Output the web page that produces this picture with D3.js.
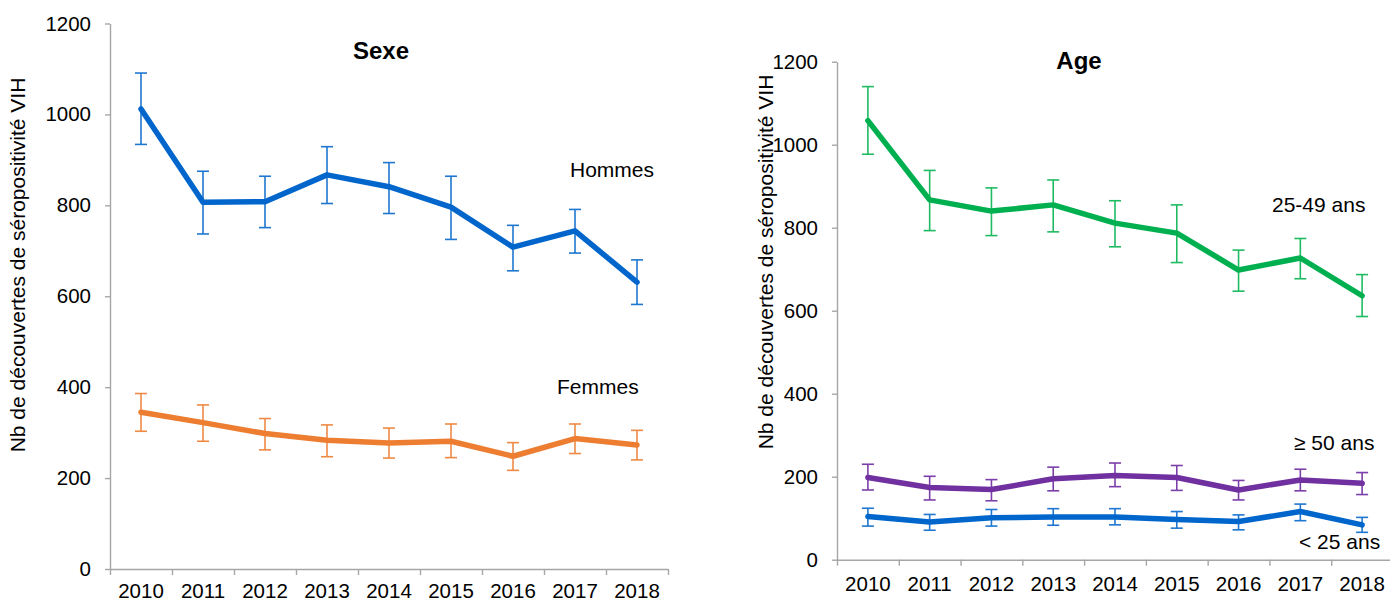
<!DOCTYPE html>
<html>
<head>
<meta charset="utf-8">
<script src="https://cdn.jsdelivr.net/npm/d3@7"></script>
<style>
  html, body { margin: 0; padding: 0; background: #fff; }
  svg { display: block; }
  text { font-family: "Liberation Sans", Arial, sans-serif; fill: #000; }
</style>
</head>
<body>
<svg id="chart" width="1390" height="602"></svg>
<script>
// ---------- DATA ----------
const years = ["2010", "2011", "2012", "2013", "2014", "2015", "2016", "2017", "2018"];
const yTickValues = [0, 200, 400, 600, 800, 1000, 1200];

// Sexe panel
const hommes     = [1012, 807, 808, 867, 841, 796, 708, 744, 631];
const hommesLow  = [934, 737, 751, 804, 782, 725, 656, 695, 582];
const hommesHigh = [1091, 875, 864, 929, 894, 864, 756, 791, 680];

const femmes     = [345, 322, 298, 283, 277, 281, 248, 287, 273];
const femmesLow  = [303, 281, 262, 247, 244, 245, 217, 254, 240];
const femmesHigh = [386, 361, 331, 317, 310, 319, 278, 319, 305];

// Age panel
const age2549     = [1058, 867, 840, 855, 811, 787, 698, 727, 636];
const age2549Low  = [977, 793, 781, 790, 754, 716, 647, 677, 586];
const age2549High = [1140, 938, 896, 915, 865, 855, 746, 774, 687];

const age50     = [198, 174, 169, 195, 203, 198, 168, 192, 184];
const age50Low  = [168, 144, 142, 166, 176, 167, 144, 166, 157];
const age50High = [230, 201, 193, 223, 233, 227, 191, 218, 210];

const ageU25     = [104, 91, 101, 103, 103, 97, 92, 116, 84];
const ageU25Low  = [81, 71, 81, 83, 84, 76, 72, 94, 66];
const ageU25High = [124, 109, 121, 123, 123, 116, 108, 134, 102];

const yAxisTitle = "Nb de découvertes de séropositivité VIH";

// ---------- DRAW ----------
const svg = d3.select("#chart");
const AXIS = "#a6a6a6";
const FONT = "Liberation Sans, Arial, sans-serif";

function panel(cfg) {
  const g = svg.append("g");
  const x = d3.scaleBand().domain(years).range([cfg.x0, cfg.x1]).padding(0);
  const xEdge = d3.scaleLinear().domain([0, years.length]).range([cfg.x0, cfg.x1]);
  const y = d3.scaleLinear().domain([0, 1200]).range([cfg.y0, cfg.y1]);
  const cx = d => x(d) + x.bandwidth() / 2;

  // y axis
  const ya = g.append("g").attr("transform", `translate(${cfg.x0},0)`)
    .call(d3.axisLeft(y).tickValues(yTickValues).tickSize(5).tickPadding(14).tickSizeOuter(0).tickFormat(d3.format("d")));
  ya.select(".domain").attr("stroke", AXIS).attr("stroke-width", 1.4);
  ya.selectAll(".tick line").attr("stroke", AXIS).attr("stroke-width", 1.4);
  ya.selectAll(".tick text").attr("font-size", 20.5).attr("font-family", FONT).attr("fill", "#000");

  // x axis: tick marks at category edges
  const xa = g.append("g").attr("transform", `translate(0,${cfg.y0})`)
    .call(d3.axisBottom(xEdge).tickValues(d3.range(years.length + 1)).tickSize(6).tickSizeOuter(0).tickFormat(""));
  xa.select(".domain").attr("stroke", AXIS).attr("stroke-width", 1.4);
  xa.selectAll(".tick line").attr("stroke", AXIS).attr("stroke-width", 1.4);

  // x labels at category centres
  const xl = g.append("g").attr("transform", `translate(0,${cfg.y0})`)
    .call(d3.axisBottom(x).tickSize(0).tickPadding(cfg.xPad));
  xl.select(".domain").remove();
  xl.selectAll(".tick text").attr("font-size", 20.5).attr("font-family", FONT).attr("fill", "#000");

  // y-axis title
  g.append("text")
    .attr("transform", `translate(${cfg.titleX},${cfg.titleY}) rotate(-90)`)
    .attr("text-anchor", "middle")
    .attr("dominant-baseline", "central")
    .attr("font-size", 21)
    .text(yAxisTitle);

  // panel title
  g.append("text")
    .attr("x", cfg.headX).attr("y", cfg.headY)
    .attr("text-anchor", "middle")
    .attr("font-size", 24).attr("font-weight", "bold")
    .text(cfg.head);

  cfg.series.forEach(s => {
    const pts = years.map((yr, i) => ({ yr, v: s.values[i], lo: s.low[i], hi: s.high[i] }));
    const eb = g.append("g").attr("stroke", s.errColor).attr("stroke-width", 1.6).attr("fill", "none");
    pts.forEach(p => {
      const px = cx(p.yr);
      eb.append("line").attr("x1", px).attr("x2", px).attr("y1", y(p.lo)).attr("y2", y(p.hi));
      eb.append("line").attr("x1", px - 6).attr("x2", px + 6).attr("y1", y(p.lo)).attr("y2", y(p.lo));
      eb.append("line").attr("x1", px - 6).attr("x2", px + 6).attr("y1", y(p.hi)).attr("y2", y(p.hi));
    });
    g.append("path").datum(pts)
      .attr("fill", "none").attr("stroke", s.color).attr("stroke-width", 5.5)
      .attr("stroke-linejoin", "round").attr("stroke-linecap", "round")
      .attr("d", d3.line().x(p => cx(p.yr)).y(p => y(p.v)));
    g.append("text")
      .attr("x", s.labelX).attr("y", s.labelY)
      .attr("font-size", s.labelSize || 21)
      .attr("font-family", s.labelFont || FONT)
      .text(s.label);
  });
}

panel({
  x0: 110, x1: 668, y0: 569, y1: 23.5, xPad: 14,
  titleX: 17, titleY: 265, headX: 381, headY: 59, head: "Sexe",
  series: [
    { values: hommes, low: hommesLow, high: hommesHigh, color: "#0066cc", errColor: "#1f77d0", label: "Hommes", labelX: 570, labelY: 177 },
    { values: femmes, low: femmesLow, high: femmesHigh, color: "#ed7d31", errColor: "#ef8a45", label: "Femmes", labelX: 557, labelY: 394 }
  ]
});

panel({
  x0: 837, x1: 1393, y0: 559.7, y1: 61.7, xPad: 17,
  titleX: 765, titleY: 262, headX: 1079, headY: 69, head: "Age",
  series: [
    { values: age2549, low: age2549Low, high: age2549High, color: "#00b050", errColor: "#1fbb62", label: "25-49 ans", labelX: 1272, labelY: 212, labelFont: "Lato, Carlito, sans-serif", labelSize: 21 },
    { values: age50, low: age50Low, high: age50High, color: "#7030a0", errColor: "#7c3faa", label: "≥ 50 ans", labelX: 1294, labelY: 450 },
    { values: ageU25, low: ageU25Low, high: ageU25High, color: "#0066cc", errColor: "#1f77d0", label: "< 25 ans", labelX: 1299, labelY: 549 }
  ]
});
</script>
</body>
</html>
